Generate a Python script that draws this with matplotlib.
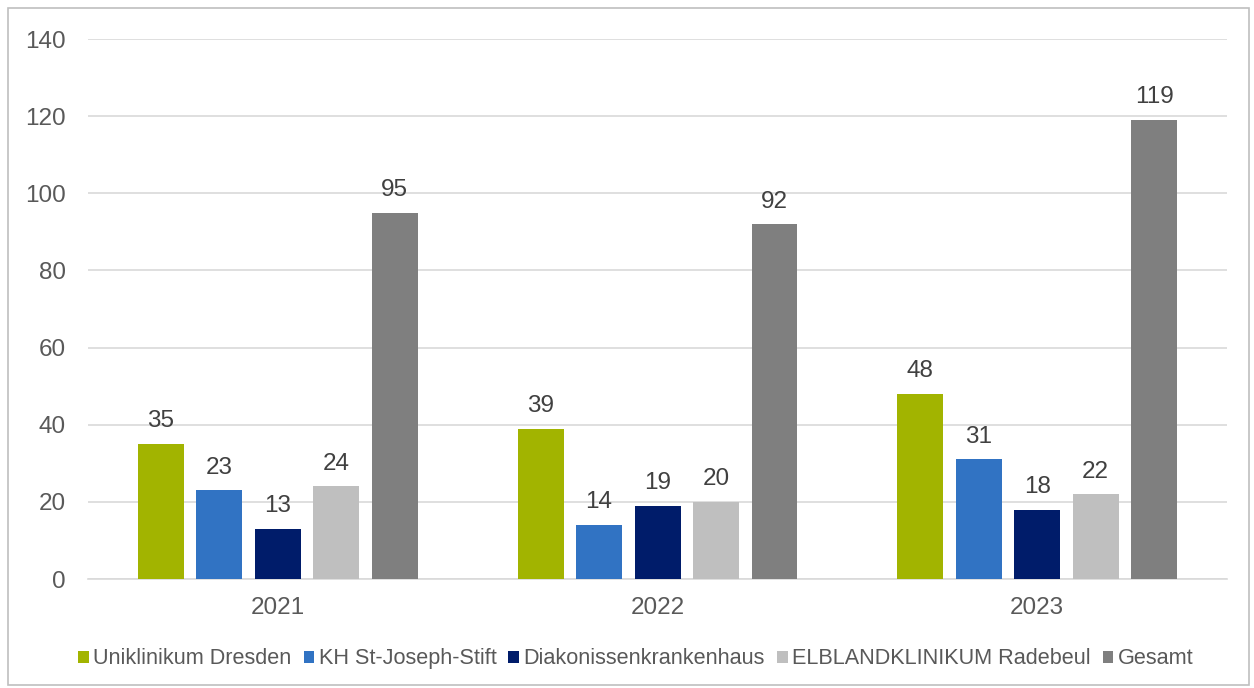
import numpy as np
import matplotlib.pyplot as plt
from matplotlib.patches import Rectangle

plt.rcParams['font.family'] = ['Liberation Sans', 'DejaVu Sans']

# Data
years = ['2021', '2022', '2023']
series_names = ['Uniklinikum Dresden', 'KH St-Joseph-Stift', 'Diakonissenkrankenhaus',
                'ELBLANDKLINIKUM Radebeul', 'Gesamt']
uniklinikum = [35, 39, 48]
st_joseph = [23, 14, 31]
diakonissen = [13, 19, 18]
elbland = [24, 20, 22]
gesamt = [95, 92, 119]
colors = ['#A2B400', '#3173C3', '#001C6A', '#BFBFBF', '#7F7F7F']

all_series = [uniklinikum, st_joseph, diakonissen, elbland, gesamt]

fig = plt.figure(figsize=(12.54, 6.88), dpi=100)
ax = fig.add_axes([0.0702, 0.1584, 0.9083, 0.7849])

# frame around whole figure
fig.patches.append(Rectangle((8 / 1254, 3 / 688), 1241 / 1254, 677 / 688, transform=fig.transFigure,
                             fill=False, edgecolor='#BFBFBF', linewidth=1.2))

x = np.arange(len(years))
step = 0.154
width = 0.121
for k, (vals, name, c) in enumerate(zip(all_series, series_names, colors)):
    pos = x + (k - 2) * step
    bars = ax.bar(pos, vals, width=width, color=c, label=name, zorder=3)
    for b, v in zip(bars, vals):
        ax.text(b.get_x() + b.get_width() / 2, v + 3.0, str(v), ha='center', va='bottom',
                fontsize=17.5, color='#404040')

ax.set_xlim(-0.5, 2.5)
ax.set_ylim(0, 140)
ax.set_yticks(range(0, 141, 20))
ax.set_xticks(x)
ax.set_xticklabels(years)
ax.grid(axis='y', color='#D9D9D9', linewidth=1.2, zorder=0)
ax.set_axisbelow(True)
for s in ['top', 'right', 'left']:
    ax.spines[s].set_visible(False)
ax.spines['bottom'].set_color('#D9D9D9')
ax.spines['bottom'].set_linewidth(1.2)
ax.tick_params(axis='both', length=0, labelsize=17.5, labelcolor='#595959')
ax.tick_params(axis='y', pad=16)
ax.tick_params(axis='x', pad=13)

ax.legend(loc='center', bbox_to_anchor=(0.481, -0.148), ncol=5, frameon=False,
          fontsize=15.6, labelcolor='#595959', handlelength=0.5, handleheight=0.5,
          handletextpad=0.2, columnspacing=0.55)

fig.savefig('out.png', dpi=100)
